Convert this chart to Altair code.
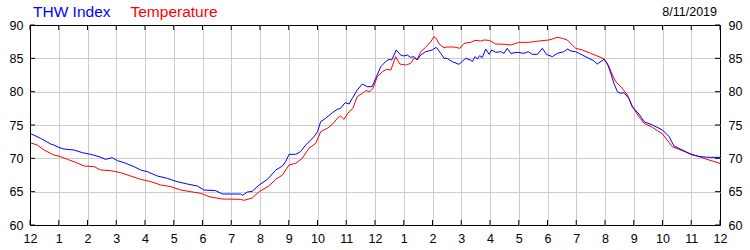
import altair as alt
import pandas as pd

# ---- data (hours after midnight, degrees F) ----
hours_thw = [0, 0.37, 0.72, 0.83, 1.0, 1.18, 1.53, 1.82, 2.11, 2.4, 2.63, 2.86, 3.04, 3.27, 3.62, 3.85,
             4.08, 4.43, 4.78, 5.12, 5.47, 5.82, 6.05, 6.46, 6.69, 7.33, 7.39, 7.56, 7.73, 7.97, 8.26,
             8.55, 8.78, 8.89, 9.01, 9.24, 9.41, 9.59, 9.88, 10.0, 10.11, 10.28, 10.52, 10.69, 10.8,
             10.96, 11.1, 11.21, 11.38, 11.56, 11.73, 11.9, 12.05, 12.2, 12.37, 12.49, 12.58, 12.74,
             12.89, 13.0, 13.12, 13.24, 13.36, 13.47, 13.59, 13.76, 13.99, 14.13, 14.29, 14.4, 14.51,
             14.69, 14.92, 15.15, 15.33, 15.38, 15.48, 15.56, 15.64, 15.73, 15.85, 15.97, 16.06, 16.2,
             16.37, 16.49, 16.6, 16.72, 16.95, 17.18, 17.33, 17.47, 17.65, 17.82, 17.96, 18.17, 18.34,
             18.57, 18.69, 18.81, 18.98, 19.21, 19.44, 19.6, 19.73, 19.97, 20.08, 20.2, 20.31, 20.43,
             20.55, 20.66, 20.83, 20.95, 21.18, 21.36, 21.65, 22.0, 22.23, 22.4, 22.69, 23.04, 23.33,
             23.62, 24.0]
thw_index = [73.75, 73.0, 72.15, 72.0, 71.65, 71.4, 71.25, 70.85, 70.6, 70.25, 69.85, 70.1, 69.65, 69.35,
             68.75, 68.25, 68.0, 67.35, 67.0, 66.5, 66.15, 65.85, 65.25, 65.15, 64.65, 64.65, 64.45,
             64.95, 65.05, 66.0, 66.85, 68.25, 68.85, 69.5, 70.6, 70.6, 71.0, 72.0, 73.25, 74.0, 75.5,
             76.0, 76.85, 77.35, 77.5, 78.35, 78.15, 79.0, 80.25, 81.15, 80.75, 80.75, 82.25, 83.75,
             84.5, 84.85, 84.75, 86.25, 85.5, 85.35, 85.5, 85.15, 85.25, 84.75, 85.5, 86.0, 86.25,
             86.65, 85.75, 85.0, 85.0, 84.5, 84.1, 85.0, 84.75, 84.5, 85.25, 84.9, 85.4, 85.1, 86.4,
             85.6, 86.25, 85.9, 86.0, 85.75, 86.5, 85.75, 85.9, 85.75, 86.0, 85.6, 85.6, 86.5, 85.6,
             85.25, 85.75, 86.0, 86.4, 86.1, 86.0, 85.5, 85.0, 84.65, 84.15, 84.85, 84.25, 82.75,
             81.25, 80.0, 79.75, 79.85, 79.0, 77.75, 76.65, 75.5, 75.0, 74.25, 73.25, 71.85, 71.25,
             70.5, 70.25, 70.15, 70.15]

hours_temp = [0, 0.25, 0.49, 0.83, 1.07, 1.3, 1.53, 1.88, 2.23, 2.46, 2.8, 3.15, 3.5, 3.85, 4.2, 4.55,
              4.9, 5.24, 5.59, 5.94, 6.23, 6.69, 7.33, 7.44, 7.73, 7.97, 8.31, 8.55, 8.78, 9.01, 9.24,
              9.47, 9.7, 9.94, 10.11, 10.34, 10.52, 10.69, 10.8, 10.92, 11.1, 11.23, 11.38, 11.56,
              11.68, 11.82, 11.93, 12.08, 12.26, 12.4, 12.55, 12.72, 12.86, 13.07, 13.24, 13.36, 13.47,
              13.59, 13.76, 13.94, 14.05, 14.13, 14.23, 14.4, 14.5, 14.75, 14.95, 15.1, 15.33, 15.48,
              15.68, 15.79, 15.97, 16.2, 16.55, 16.72, 17.0, 17.36, 17.7, 18.05, 18.23, 18.34, 18.52,
              18.69, 18.86, 18.98, 19.21, 19.5, 19.79, 19.97, 20.14, 20.26, 20.37, 20.55, 20.78,
              20.95, 21.18, 21.36, 21.65, 22.0, 22.34, 22.57, 22.92, 23.27, 23.62, 24.0]
temperature = [72.35, 72.0, 71.25, 70.5, 70.25, 69.85, 69.5, 68.85, 68.75, 68.25, 68.15, 67.85, 67.35,
               66.85, 66.5, 66.0, 65.75, 65.25, 65.0, 64.75, 64.25, 63.9, 63.85, 63.7, 64.05, 65.0,
               65.85, 66.85, 67.5, 69.0, 69.25, 70.0, 71.5, 72.25, 74.0, 74.5, 75.1, 76.0, 76.35,
               75.85, 77.0, 77.5, 79.25, 79.75, 80.15, 80.0, 80.5, 82.25, 83.0, 83.35, 83.25, 85.25,
               84.15, 84.0, 84.25, 85.0, 84.85, 86.0, 86.65, 87.5, 88.25, 88.0, 87.15, 86.6, 86.7,
               86.7, 86.5, 87.25, 87.4, 87.7, 87.6, 87.75, 87.7, 87.15, 87.1, 87.0, 87.4, 87.4, 87.6,
               87.75, 88.0, 88.15, 88.0, 87.75, 87.0, 86.5, 86.25, 85.75, 85.25, 84.9, 83.75, 82.5,
               81.5, 80.75, 79.5, 77.75, 76.25, 75.25, 74.65, 73.65, 71.75, 71.35, 70.75, 70.25,
               69.75, 69.25]

x_ticks = list(range(25))
y_ticks = [60, 65, 70, 75, 80, 85, 90]
series_names = ["THW Index", "Temperature"]
series_colors = ["#0000ff", "#ff0000"]
date_label = "8/11/2019"

FONT = "Liberation Sans"
W, H = 690, 200

thw_df = pd.DataFrame({"hour": hours_thw, "value": thw_index})
temp_df = pd.DataFrame({"hour": hours_temp, "value": temperature})
xt_df = pd.DataFrame({"hour": x_ticks})
yt_df = pd.DataFrame({"value": y_ticks})

xscale = alt.Scale(domain=[0, 24], nice=False, zero=False)
yscale = alt.Scale(domain=[60, 90], nice=False, zero=False)

edge_x = "datum.value == 0 || datum.value == 24"
edge_y = "datum.value == 60 || datum.value == 90"

x_axis = alt.Axis(values=x_ticks,
                  labelExpr="datum.value % 12 == 0 ? '12' : '' + (datum.value % 12)",
                  ticks=False, domain=False, grid=True, gridColor="#cccccc",
                  gridOpacity={"condition": {"test": edge_x, "value": 0}, "value": 1},
                  labelFont=FONT, labelFontSize=12.5, labelColor="#000000",
                  labelPadding=7, labelFlush=False, labelOverlap=False, title=None)

y_axis_left = alt.Axis(values=y_ticks, orient="left", ticks=False, domain=False, grid=True,
                       gridColor="#cccccc",
                       gridOpacity={"condition": {"test": edge_y, "value": 0}, "value": 1},
                       labelFont=FONT, labelFontSize=12.5, labelColor="#000000",
                       labelPadding=7, labelFlush=False, labelOverlap=False, title=None)
y_axis_right = alt.Axis(values=y_ticks, orient="right", ticks=False, domain=False, grid=False,
                        labelFont=FONT, labelFontSize=12.5, labelColor="#000000",
                        labelPadding=8, labelFlush=False, labelOverlap=False, title=None)

X = alt.X("hour:Q", scale=xscale, axis=x_axis)

temp_line = alt.Chart(temp_df).mark_line(color=series_colors[1], strokeWidth=1).encode(
    x=X,
    y=alt.Y("value:Q", scale=yscale, axis=y_axis_right),
)
thw_line = alt.Chart(thw_df).mark_line(color=series_colors[0], strokeWidth=1).encode(
    x=X,
    y=alt.Y("value:Q", scale=yscale, axis=y_axis_left),
)

# inward tick marks on all four sides
top_ticks = alt.Chart(xt_df).mark_rule(color="black", strokeWidth=1).encode(
    x=X, y=alt.value(0), y2=alt.value(5))
bot_ticks = alt.Chart(xt_df).mark_rule(color="black", strokeWidth=1).encode(
    x=X, y=alt.value(H - 5), y2=alt.value(H))
left_ticks = alt.Chart(yt_df).mark_rule(color="black", strokeWidth=1).encode(
    y=alt.Y("value:Q", scale=yscale, axis=None), x=alt.value(0), x2=alt.value(5))
right_ticks = alt.Chart(yt_df).mark_rule(color="black", strokeWidth=1).encode(
    y=alt.Y("value:Q", scale=yscale, axis=None), x=alt.value(W - 5), x2=alt.value(W))

# header legend texts and date
leg1 = alt.Chart(pd.DataFrame({"t": [series_names[0]]})).mark_text(
    align="left", baseline="alphabetic", font=FONT, fontSize=15.5, color=series_colors[0]
).encode(text="t:N", x=alt.value(3), y=alt.value(-8))
leg2 = alt.Chart(pd.DataFrame({"t": [series_names[1]]})).mark_text(
    align="left", baseline="alphabetic", font=FONT, fontSize=15.5, color=series_colors[1]
).encode(text="t:N", x=alt.value(100.5), y=alt.value(-8))
date_txt = alt.Chart(pd.DataFrame({"t": [date_label]})).mark_text(
    align="right", baseline="alphabetic", font=FONT, fontSize=12.5, color="#000000"
).encode(text="t:N", x=alt.value(W - 3), y=alt.value(-9))

chart = alt.layer(
    temp_line, thw_line, top_ticks, bot_ticks, left_ticks, right_ticks, leg1, leg2, date_txt
).resolve_scale(y="independent").properties(
    width=W, height=H,
    padding={"left": 30, "top": 25, "right": 30, "bottom": 25},
    autosize=alt.AutoSizeParams(type="none"),
    background="white",
).configure_view(stroke="black", strokeWidth=1)

chart.save("out.html", embed_options={"renderer": "svg", "actions": False})
